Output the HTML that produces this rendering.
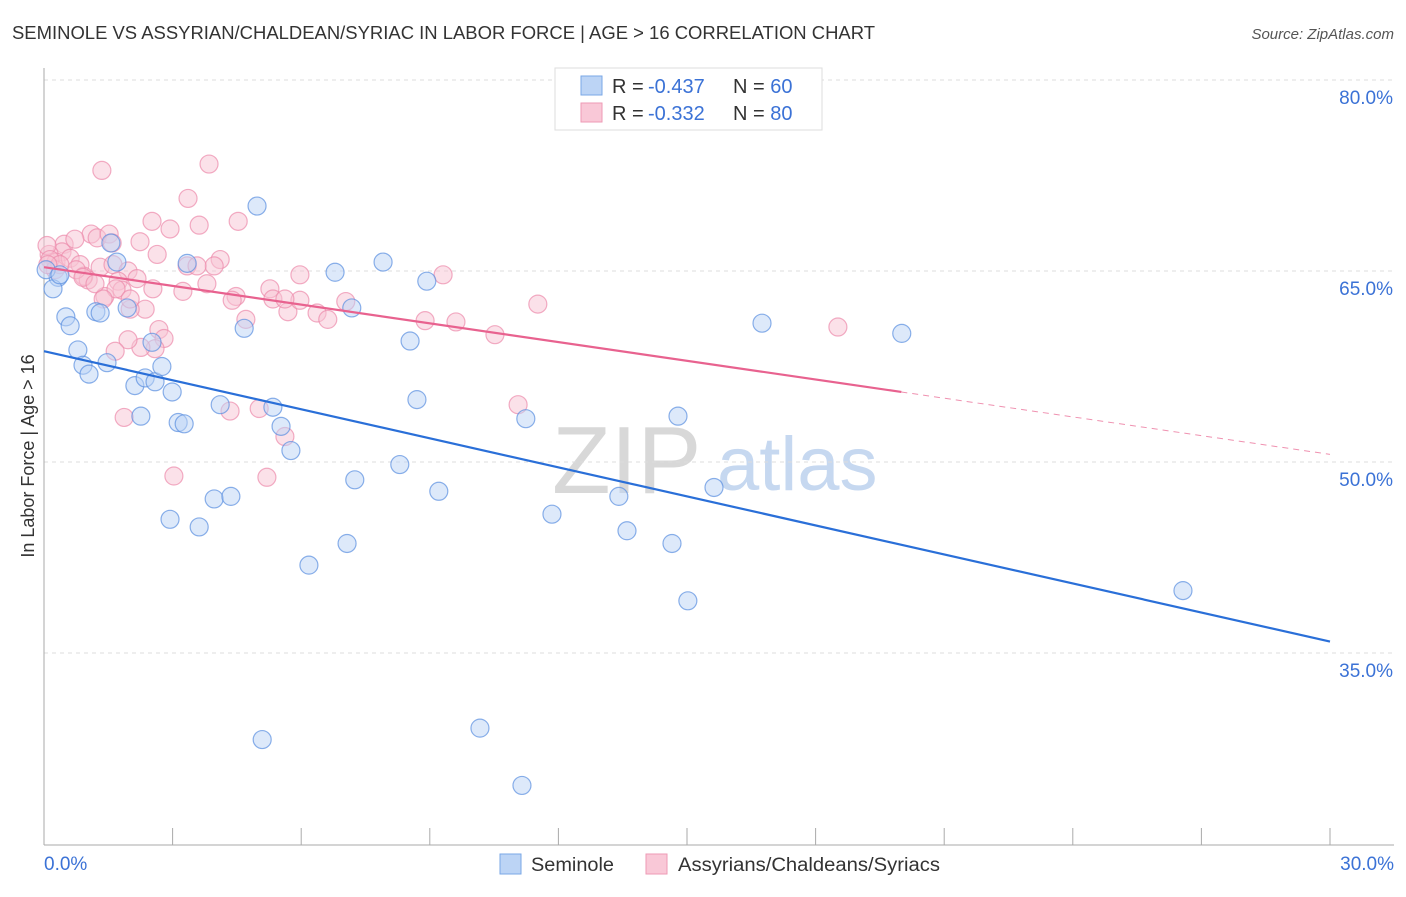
<!DOCTYPE html>
<html><head><meta charset="utf-8"><style>
body{margin:0;background:#fff;font-family:"Liberation Sans",sans-serif;}
svg text{font-family:"Liberation Sans",sans-serif;}
</style></head><body>
<svg width="1406" height="892" viewBox="0 0 1406 892">
<text x="12" y="39" font-size="18" fill="#333" textLength="863" lengthAdjust="spacingAndGlyphs">SEMINOLE VS ASSYRIAN/CHALDEAN/SYRIAC IN LABOR FORCE | AGE &gt; 16 CORRELATION CHART</text>
<text x="1394" y="39" font-size="15" fill="#555" font-style="italic" text-anchor="end">Source: ZipAtlas.com</text>
<g>
<text x="552" y="493" font-size="96" fill="#d8d8d8" font-family="Liberation Serif">ZIP</text>
<text x="717" y="490" font-size="76" fill="#c6d8f0">atlas</text>
</g>
<g id="grid"></g>
<g id="axes"></g>
<g id="marks"></g>
<text transform="translate(34,456) rotate(-90)" font-size="18" fill="#333" text-anchor="middle">In Labor Force | Age &gt; 16</text>
<text x="44" y="870" font-size="19" fill="#3b72d6">0.0%</text>
<text x="1394" y="870" font-size="19" fill="#3b72d6" text-anchor="end">30.0%</text>
<g>
<rect x="555" y="68" width="267" height="62" fill="#fff" stroke="#ddd"/>
<rect x="581" y="76" width="21" height="19" fill="#bcd4f5" stroke="#7aa7e6"/>
<rect x="581" y="103" width="21" height="19" fill="#f9c8d7" stroke="#ee9ab4"/>
<text x="612" y="93" font-size="20" fill="#333">R = <tspan x="648" fill="#3b72d6">-0.437</tspan><tspan x="733">N = </tspan><tspan fill="#3b72d6">60</tspan></text>
<text x="612" y="120" font-size="20" fill="#333">R = <tspan x="648" fill="#3b72d6">-0.332</tspan><tspan x="733">N = </tspan><tspan fill="#3b72d6">80</tspan></text>
</g>
<g>
<rect x="500" y="854" width="21" height="20" fill="#bcd4f5" stroke="#7aa7e6"/>
<text x="531" y="871" font-size="19" fill="#333" textLength="83" lengthAdjust="spacingAndGlyphs">Seminole</text>
<rect x="646" y="854" width="21" height="20" fill="#f9c8d7" stroke="#ee9ab4"/>
<text x="678" y="871" font-size="19" fill="#333" textLength="262" lengthAdjust="spacingAndGlyphs">Assyrians/Chaldeans/Syriacs</text>
</g>
</svg>
<script>
const yTicks=[80,65,50,35];
const yTickLabels=["80.0%","65.0%","50.0%","35.0%"];
const xTicks=[0,3,6,9,12,15,18,21,24,27,30];
const blueX=[4.97,1.56,1.70,3.34,6.79,7.91,8.93,0.33,0.21,0.51,0.61,1.21,1.31,1.94,2.52,0.79,0.91,1.05,1.47,2.12,2.36,2.59,2.75,2.99,2.26,3.13,3.27,4.11,4.67,5.34,5.53,5.76,7.18,8.54,8.70,11.24,14.79,16.75,20.01,8.30,7.25,9.21,11.85,13.41,15.63,13.60,14.65,15.02,26.57,2.94,3.62,3.97,4.36,6.18,7.07,5.09,10.17,11.15,0.05,0.37];
const blueY=[70.1,67.2,65.7,65.6,64.9,65.7,64.2,64.5,63.6,61.4,60.7,61.8,61.7,62.1,59.4,58.8,57.6,56.9,57.8,56.0,56.6,56.3,57.5,55.5,53.6,53.1,53.0,54.5,60.5,54.3,52.8,50.9,62.1,59.5,54.9,53.4,53.6,60.9,60.1,49.8,48.6,47.7,45.9,47.3,48.0,44.6,43.6,39.1,39.9,45.5,44.9,47.1,47.3,41.9,43.6,28.2,29.1,24.6,65.1,64.7];
const pinkX=[1.35,3.85,3.36,4.53,2.52,2.94,3.62,2.24,0.47,0.42,1.10,1.24,1.52,1.59,0.12,0.28,0.61,0.84,0.93,1.03,0.75,1.31,1.61,1.96,2.17,1.73,1.82,1.42,2.36,2.01,2.64,3.34,4.11,3.97,3.57,3.24,4.48,4.39,5.27,5.34,5.69,5.97,5.97,6.37,6.62,7.04,8.89,9.61,10.52,11.52,9.31,18.52,2.68,2.80,2.59,2.26,1.96,1.66,1.87,4.34,5.02,5.62,11.06,3.03,5.20,0.07,0.14,0.26,0.37,0.72,0.91,1.19,1.68,2.01,1.38,2.54,3.80,4.71,5.62,0.09];
const pinkY=[72.9,73.4,70.7,68.9,68.9,68.3,68.6,67.3,67.1,66.5,67.9,67.6,67.9,67.2,66.3,65.7,66.0,65.5,64.6,64.3,65.1,65.3,65.5,65.0,64.4,64.2,63.5,63.0,62.0,62.0,66.3,65.4,65.9,65.4,65.4,63.4,63.0,62.7,63.6,62.8,61.8,62.7,64.7,61.7,61.2,62.6,61.1,61.0,60.0,62.4,64.7,60.6,60.4,59.7,58.9,59.0,59.6,58.7,53.5,54.0,54.2,52.0,54.5,48.9,48.8,67.0,65.9,65.1,65.5,67.5,64.5,64.0,63.6,62.8,62.8,63.6,64.0,61.2,62.8,65.5];
const blueTrend=[58.7,35.9];      // value at x=0 and x=30
const pinkTrend=[65.3,50.6];      // value at x=0 and x=30
const pinkSolidEnd=20.0;
const NS="http://www.w3.org/2000/svg";
const X=v=>44+v*(1330-44)/30;
const Y=v=>80+(80-v)*(653-80)/45;
function mk(tag,attrs,parent){const e=document.createElementNS(NS,tag);for(const k in attrs)e.setAttribute(k,attrs[k]);parent.appendChild(e);return e;}
const grid=document.getElementById('grid'),axes=document.getElementById('axes'),marks=document.getElementById('marks');
yTicks.forEach((t,i)=>{
 const l=mk('line',{x1:44,x2:1394,y1:Y(t),y2:Y(t),stroke:'#ddd','stroke-dasharray':'4,4'},grid);
 
 
 const tx=mk('text',{x:1393,y:Y(t)+24,'font-size':19,fill:'#3b72d6','text-anchor':'end'},grid);
 tx.textContent=yTickLabels[i];
 
 
});
const ax=mk('line',{x1:44,x2:1394,y1:845,y2:845,stroke:'#aaa'},axes);


const ay=mk('line',{x1:44,x2:44,y1:68,y2:845,stroke:'#aaa'},axes);


xTicks.forEach(t=>{
 const l=mk('line',{x1:X(t),x2:X(t),y1:828,y2:845,stroke:'#aaa'},axes);
 
 
});
function dots(xs,ys,fill,stroke,name){
 xs.forEach((x,i)=>{
  const c=mk('circle',{cx:X(x),cy:Y(ys[i]),r:9,fill:fill,'fill-opacity':0.5,stroke:stroke,'stroke-opacity':0.7,'stroke-width':1.2},marks);
  
  
 });
}
dots(pinkX,pinkY,'#f8c3d3','#ec8aab','point-assyrian');
dots(blueX,blueY,'#bcd4f5','#5a8fdf','point-seminole');
const tv=(tr,x)=>tr[0]+(tr[1]-tr[0])*x/30;
const bl=mk('line',{x1:X(0),y1:Y(tv(blueTrend,0)),x2:X(30),y2:Y(tv(blueTrend,30)),stroke:'#2a6fd8','stroke-width':2.2},marks);


const pl=mk('line',{x1:X(0),y1:Y(tv(pinkTrend,0)),x2:X(pinkSolidEnd),y2:Y(tv(pinkTrend,pinkSolidEnd)),stroke:'#e8628f','stroke-width':2.2},marks);


const pd=mk('line',{x1:X(pinkSolidEnd),y1:Y(tv(pinkTrend,pinkSolidEnd)),x2:X(30),y2:Y(tv(pinkTrend,30)),stroke:'#e8628f','stroke-width':1,'stroke-dasharray':'6,5','stroke-opacity':0.7},marks);


</script>
</body></html>
